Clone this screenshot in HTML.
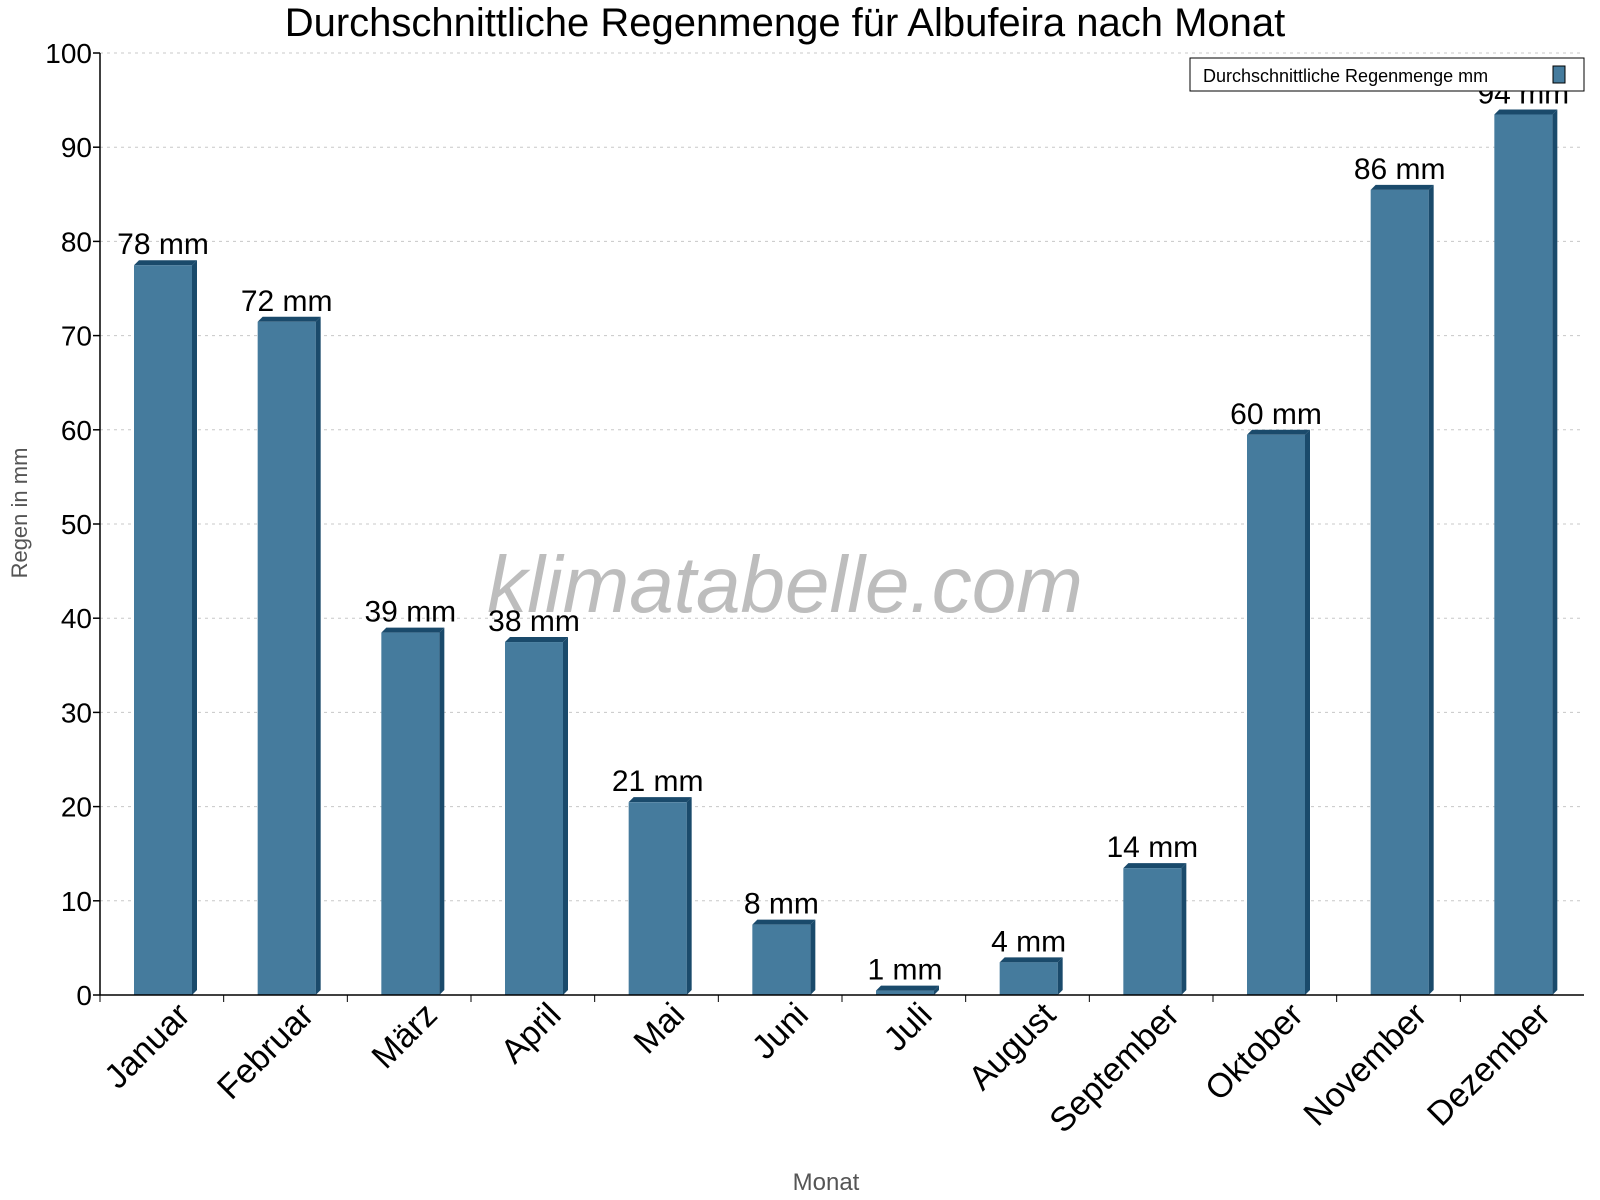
<!DOCTYPE html>
<html><head><meta charset="utf-8"><style>
body{margin:0;background:#fff;}
svg{display:block;font-family:"Liberation Sans",Arial,sans-serif;}
</style></head><body>
<svg id="chart" width="1600" height="1200" viewBox="0 0 1600 1200">
<text x="785" y="36" font-size="40" text-anchor="middle">Durchschnittliche Regenmenge für Albufeira nach Monat</text>
<g id="grid"></g>
<text x="785" y="612" font-size="80" fill="#bdbdbd" text-anchor="middle" font-style="italic">klimatabelle.com</text>
<g id="bars"></g>
<g id="axes"></g>
<text x="27" y="513" font-size="22" fill="#555" text-anchor="middle" transform="rotate(-90 27 513)">Regen in mm</text>
<text x="826" y="1190" font-size="24" fill="#555" text-anchor="middle">Monat</text>
<g>
<rect x="1190" y="58" width="394" height="33" fill="#fff" stroke="#000" stroke-width="1"/>
<text x="1203" y="82" font-size="18">Durchschnittliche Regenmenge mm</text>
<rect x="1553" y="66" width="12" height="17" fill="#457b9d" stroke="#000" stroke-width="1"/>
</g>
</svg>
<script>
const categories=["Januar","Februar","März","April","Mai","Juni","Juli","August","September","Oktober","November","Dezember"];
const values=[78,72,39,38,21,8,1,4,14,60,86,94];
const yTicks=[0,10,20,30,40,50,60,70,80,90,100];
const NS="http://www.w3.org/2000/svg";
const L=100,R=1584,T=53,B=995;
const sc=1;
const y=v=>B-(v/100)*(B-T);
const bw=(R-L)/categories.length;
const xs=i=>L+i*bw;
function mk(tag,attrs,parent){const e=document.createElementNS(NS,tag);for(const k in attrs)e.setAttribute(k,attrs[k]);parent.appendChild(e);return e;}
const grid=document.getElementById('grid'),bars=document.getElementById('bars'),axes=document.getElementById('axes');
yTicks.forEach(t=>{
 const g=mk('line',{x1:L,x2:R,y1:y(t),y2:y(t),stroke:'#c8c8c8','stroke-dasharray':'3,4','stroke-width':1},grid);
 
 
 const tk=mk('line',{x1:L-7,x2:L,y1:y(t),y2:y(t),stroke:'#000','stroke-width':1.5},axes);
 
 
 const tl=mk('text',{x:L-8,y:y(t)+10,'font-size':28,'text-anchor':'end'},axes);
 tl.textContent=t;
 
 
});
const ax=mk('line',{x1:L,x2:L,y1:T,y2:B,stroke:'#000','stroke-width':1.5},axes);


const bx=mk('line',{x1:L,x2:R,y1:B,y2:B,stroke:'#000','stroke-width':1.5},axes);


const off=5;
categories.forEach((c,i)=>{
 const x0=xs(i)+34,w=58,top=y(values[i]);
 const tk=mk('line',{x1:xs(i),x2:xs(i),y1:B,y2:B+7,stroke:'#000','stroke-width':1},axes);
 
 
 const g=mk('g',{},bars);
 
 
 mk('polygon',{points:`${x0},${top+off} ${x0+off},${top} ${x0+w+off},${top} ${x0+w},${top+off}`,fill:'#1a4a6b'},g);
 mk('polygon',{points:`${x0+w},${top+off} ${x0+w+off},${top} ${x0+w+off},${B-off} ${x0+w},${B}`,fill:'#1a4a6b'},g);
 mk('rect',{x:x0,y:top+off,width:w,height:Math.max(0,B-top-off),fill:'#457b9d'},g);
 const lab=mk('text',{x:x0+w/2,y:top-6,'font-size':30,'text-anchor':'middle'},bars);
 lab.textContent=values[i]+' mm';
 
 
 const cx=xs(i)+bw/2+30;
 const xl=mk('text',{x:cx,y:B+22,'font-size':34,'text-anchor':'end',transform:`rotate(-45 ${cx} ${B+22})`},axes);
 xl.textContent=c;
 
 
});
</script>
</body></html>
